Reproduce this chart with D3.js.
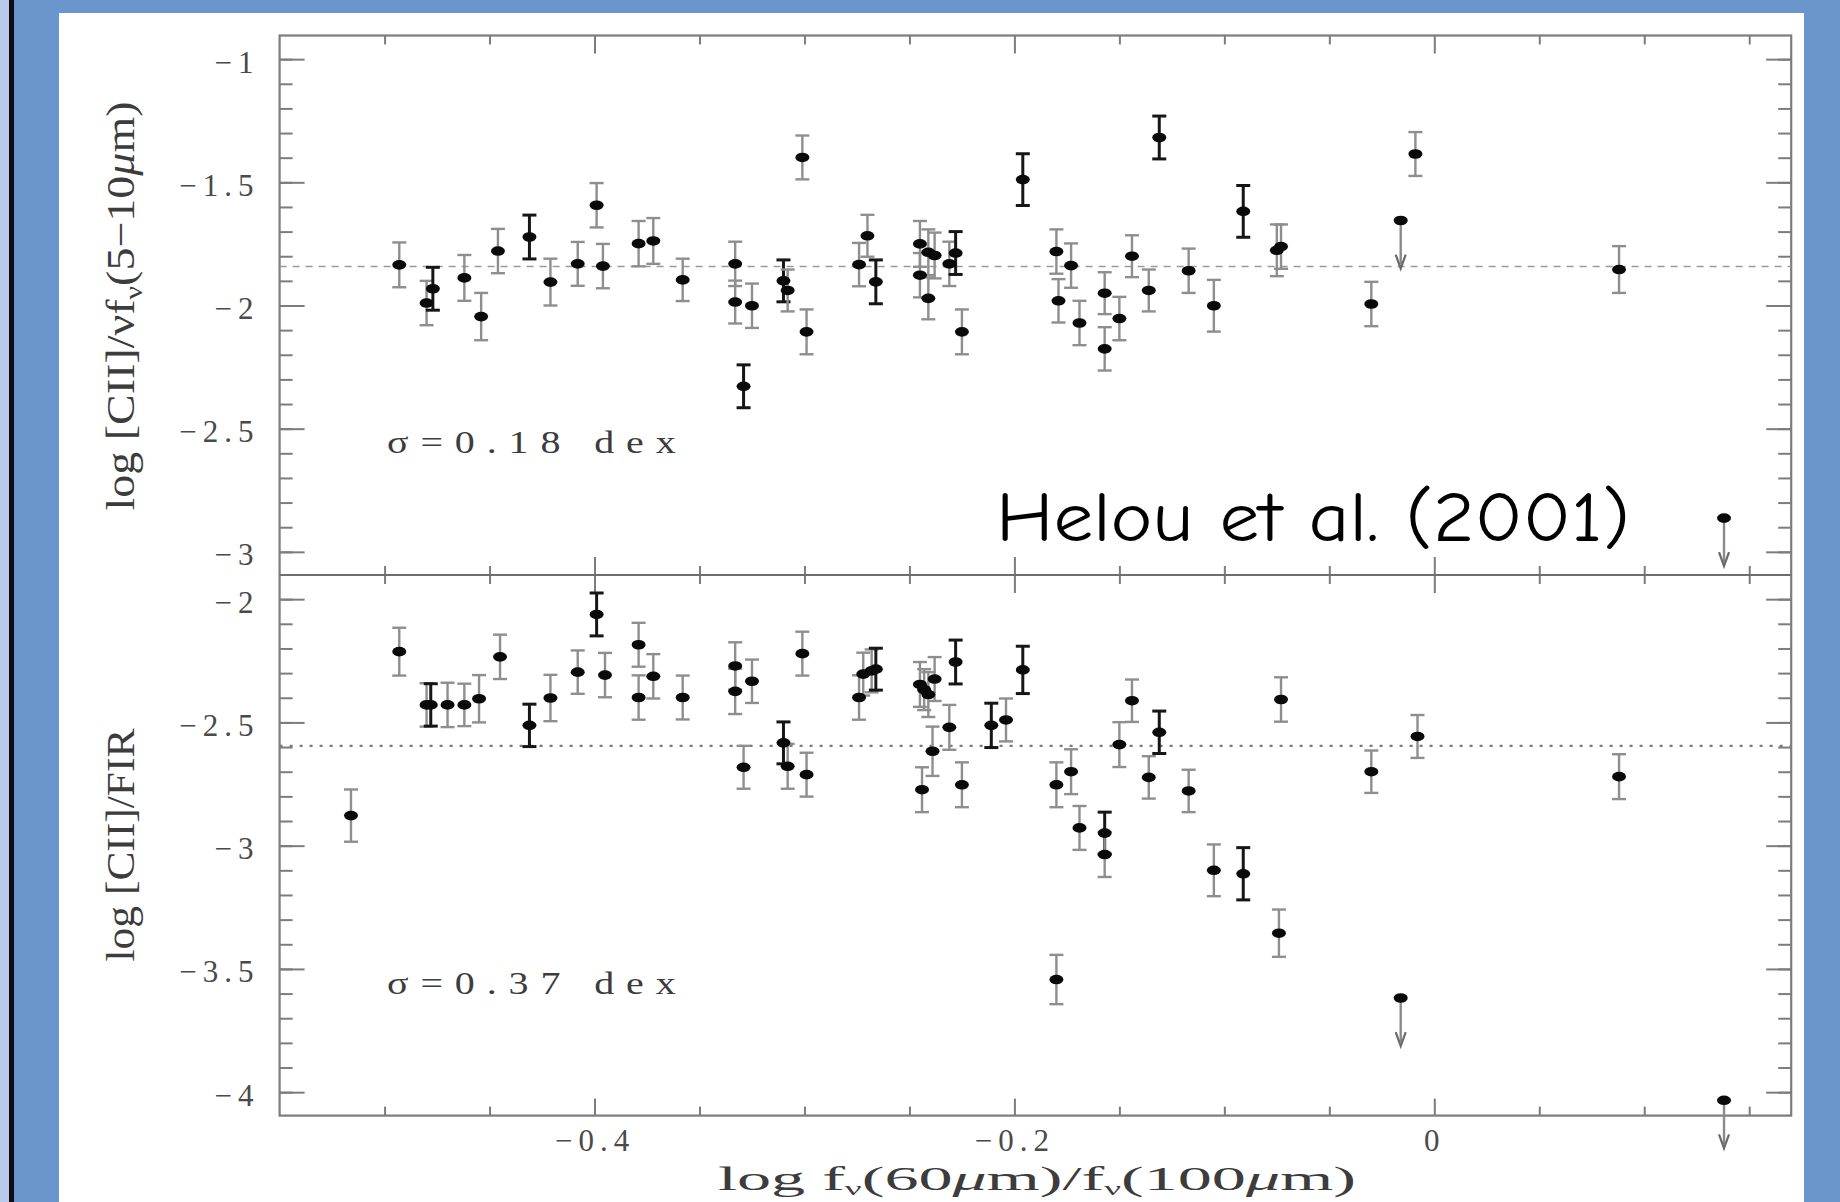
<!DOCTYPE html>
<html>
<head>
<meta charset="utf-8">
<script src="https://cdn.jsdelivr.net/npm/d3@7"></script>
<style>
  html, body { margin: 0; padding: 0; background: #6b95cd; overflow: hidden; }
  svg { display: block; }
  .tick text { font-family: "Liberation Serif", "DejaVu Serif", serif; fill: #4a4a4a; letter-spacing: 6px; }
  .serif { font-family: "Liberation Serif", "DejaVu Serif", serif; fill: #3c3c3c; }
</style>
</head>
<body>
<svg id="chart" width="1840" height="1202"></svg>
<script>
// upper panel: log [CII]/νfν(5-10μm)
const topX = [-0.493, -0.480, -0.477, -0.462, -0.454, -0.446, -0.431, -0.421, -0.408, -0.399,
  -0.396, -0.379, -0.372, -0.358, -0.333, -0.333, -0.325, -0.329, -0.310, -0.308,
  -0.301, -0.299, -0.274, -0.270, -0.266, -0.245, -0.245, -0.241, -0.238, -0.241,
  -0.231, -0.228, -0.225, -0.196, -0.180, -0.179, -0.173, -0.169, -0.157, -0.157,
  -0.150, -0.144, -0.131, -0.136, -0.117, -0.105, -0.091, -0.075, -0.073, -0.030,
  -0.009, 0.088];
const topY = [-1.835, -1.990, -1.932, -1.888, -2.045, -1.779, -1.722, -1.905, -1.831, -1.593,
  -1.840, -1.749, -1.738, -1.896, -1.831, -1.986, -2.001, -2.328, -1.900, -1.939,
  -1.399, -2.107, -1.834, -1.717, -1.904, -1.750, -1.877, -1.784, -1.797, -1.971,
  -1.831, -1.787, -2.107, -1.489, -1.781, -1.981, -1.838, -2.071, -1.950, -2.176,
  -2.053, -1.800, -1.318, -1.939, -1.859, -2.001, -1.618, -1.776, -1.761, -1.994,
  -1.385, -1.854];
const topErr = [0.091, 0.090, 0.087, 0.093, 0.096, 0.090, 0.089, 0.095, 0.089, 0.090,
  0.090, 0.092, 0.093, 0.086, 0.090, 0.087, 0.090, 0.087, 0.085, 0.085,
  0.089, 0.091, 0.088, 0.085, 0.089, 0.093, 0.090, 0.093, 0.093, 0.085,
  0.090, 0.087, 0.091, 0.105, 0.090, 0.088, 0.090, 0.090, 0.085, 0.088,
  0.088, 0.085, 0.087, 0.085, 0.090, 0.105, 0.105, 0.105, 0.090, 0.090,
  0.089, 0.095];
const topDark = [2, 6, 17, 18, 24, 31, 33, 42, 46];
const topLimX = [-0.016, 0.138];
const topLimY = [-1.655, -2.863];
const topMean = -1.842;

// lower panel: log [CII]/FIR
const botX = [-0.516, -0.493, -0.480, -0.478, -0.470, -0.462, -0.455, -0.445, -0.431, -0.421,
  -0.408, -0.399, -0.395, -0.379, -0.379, -0.372, -0.358, -0.333, -0.333, -0.325,
  -0.329, -0.310, -0.308, -0.299, -0.301, -0.274, -0.272, -0.268, -0.266, -0.245,
  -0.243, -0.241, -0.238, -0.239, -0.244, -0.231, -0.228, -0.225, -0.211, -0.204,
  -0.196, -0.180, -0.173, -0.169, -0.157, -0.157, -0.180, -0.150, -0.144, -0.131,
  -0.136, -0.117, -0.105, -0.091, -0.074, -0.073, -0.030, -0.008, 0.088];
const botY = [-2.878, -2.213, -2.429, -2.429, -2.429, -2.429, -2.404, -2.234, -2.512, -2.401,
  -2.296, -2.062, -2.308, -2.185, -2.399, -2.313, -2.399, -2.271, -2.374, -2.333,
  -2.682, -2.583, -2.678, -2.712, -2.221, -2.399, -2.304, -2.291, -2.284, -2.346,
  -2.367, -2.387, -2.324, -2.617, -2.773, -2.520, -2.255, -2.753, -2.512, -2.490,
  -2.287, -2.753, -2.700, -2.928, -2.949, -3.036, -3.543, -2.590, -2.412, -2.540,
  -2.723, -2.778, -3.100, -3.114, -3.355, -2.407, -2.700, -2.557, -2.720];
const botErr = [0.106, 0.097, 0.088, 0.086, 0.090, 0.086, 0.096, 0.090, 0.086, 0.094,
  0.088, 0.087, 0.090, 0.089, 0.090, 0.090, 0.089, 0.096, 0.092, 0.088,
  0.087, 0.085, 0.091, 0.089, 0.089, 0.090, 0.087, 0.087, 0.085, 0.091,
  0.083, 0.091, 0.089, 0.100, 0.091, 0.091, 0.089, 0.091, 0.090, 0.087,
  0.096, 0.091, 0.091, 0.089, 0.085, 0.091, 0.100, 0.091, 0.086, 0.086,
  0.086, 0.086, 0.105, 0.106, 0.096, 0.090, 0.086, 0.087, 0.091];
const botDark = [3, 8, 11, 21, 28, 36, 38, 40, 44, 49, 53];
const botLimX = [-0.016, 0.138];
const botLimY = [-3.618, -4.033];
const botMean = -2.595;

const xMajor = [-0.4, -0.2, 0];
const xMinor = d3.range(-10, 4).map(i => i * 0.05);
const topMajor = [-1, -1.5, -2, -2.5, -3];
const topMinor = d3.range(-30, -9).map(i => i / 10);
const botMajor = [-2, -2.5, -3, -3.5, -4];
const botMinor = d3.range(-40, -19).map(i => i / 10);

const svg = d3.select("#chart");

// slide frame
svg.append("rect").attr("width", 1840).attr("height", 1202).attr("fill", "#6b95cd");
svg.append("rect").attr("width", 9).attr("height", 1202).attr("fill", "#b8cae9");
svg.append("rect").attr("x", 9).attr("width", 5).attr("height", 1202).attr("fill", "#0d0d12");
svg.append("rect").attr("x", 59).attr("y", 13).attr("width", 1745).attr("height", 1189).attr("fill", "#ffffff");

const plotL = 279.6, plotR = 1791.2, plotT = 35.5, plotM = 575, plotB = 1115.6;

const x = d3.scaleLinear().domain([-0.55, 0.17]).range([plotL, plotR]);
const yTop = d3.scaleLinear().domain([-3.094, -0.904]).range([plotM, plotT]);
const yBot = d3.scaleLinear().domain([-4.095, -1.902]).range([plotB, plotM]);

const AXIS = "#7c7c7c";

function styleAxis(g) {
  g.select(".domain").remove();
  g.selectAll(".tick line").attr("stroke", AXIS).attr("stroke-width", 2);
  g.selectAll(".tick text").attr("font-size", 31);
}

function yAxes(scale, major, minor) {
  const fmt = d3.format("");
  svg.append("g").attr("transform", `translate(${plotL},0)`)
    .call(d3.axisLeft(scale).tickValues(minor).tickSize(-13).tickFormat(""))
    .call(styleAxis);
  svg.append("g").attr("transform", `translate(${plotL},0)`)
    .call(d3.axisLeft(scale).tickValues(major).tickSize(-25).tickPadding(20).tickFormat(fmt))
    .call(styleAxis)
    .call(g => g.selectAll(".tick text").attr("dy", "0.42em"));
  svg.append("g").attr("transform", `translate(${plotR},0)`)
    .call(d3.axisRight(scale).tickValues(minor).tickSize(-13).tickFormat(""))
    .call(styleAxis);
  svg.append("g").attr("transform", `translate(${plotR},0)`)
    .call(d3.axisRight(scale).tickValues(major).tickSize(-25).tickFormat(""))
    .call(styleAxis);
}

yAxes(yTop, topMajor, topMinor);
yAxes(yBot, botMajor, botMinor);

// x ticks: top edge, shared middle edge (both ways), bottom edge with labels
function xTicks(y0, maker, minorLen, majorLen, labels) {
  svg.append("g").attr("transform", `translate(0,${y0})`)
    .call(maker(x).tickValues(xMinor.filter(v => !xMajor.some(m => Math.abs(m - v) < 1e-9))).tickSize(minorLen).tickFormat(""))
    .call(styleAxis);
  svg.append("g").attr("transform", `translate(0,${y0})`)
    .call(maker(x).tickValues(xMajor).tickSize(majorLen).tickPadding(13).tickFormat(labels ? d3.format("") : ""))
    .call(styleAxis);
}
xTicks(plotT, d3.axisTop, -9, -18, false);
xTicks(plotM, d3.axisBottom, -9, -18, false);
xTicks(plotM, d3.axisTop, -9, -18, false);
xTicks(plotB, d3.axisBottom, -9, -17, true);

// frame
svg.append("rect").attr("x", plotL).attr("y", plotT).attr("width", plotR - plotL).attr("height", plotB - plotT)
  .attr("fill", "none").attr("stroke", AXIS).attr("stroke-width", 2.2);
svg.append("line").attr("x1", plotL).attr("x2", plotR).attr("y1", plotM).attr("y2", plotM)
  .attr("stroke", "#6e6e6e").attr("stroke-width", 2.2);

// mean lines
svg.append("line").attr("x1", plotL).attr("x2", plotR)
  .attr("y1", yTop(topMean)).attr("y2", yTop(topMean))
  .attr("stroke", "#9a9a9a").attr("stroke-width", 1.6).attr("stroke-dasharray", "7,6");
svg.append("line").attr("x1", plotL).attr("x2", plotR)
  .attr("y1", yBot(botMean)).attr("y2", yBot(botMean))
  .attr("stroke", "#7a7a7a").attr("stroke-width", 2.4).attr("stroke-dasharray", "3,7");

function drawPoints(y, xs, ys, errs, dark, limX, limY) {
  const pts = xs.map((v, i) => ({ x: v, y: ys[i], e: errs[i], dark: dark.includes(i) }));
  const g = svg.append("g");
  const bar = g.selectAll("g.bar").data(pts).join("g").attr("class", "bar")
    .attr("stroke", d => d.dark ? "#161616" : "#8e8e8e")
    .attr("stroke-width", d => d.dark ? 3 : 2.4);
  bar.append("line")
    .attr("x1", d => x(d.x)).attr("x2", d => x(d.x))
    .attr("y1", d => y(d.y + d.e)).attr("y2", d => y(d.y - d.e));
  bar.append("line")
    .attr("x1", d => x(d.x) - 7).attr("x2", d => x(d.x) + 7)
    .attr("y1", d => y(d.y + d.e)).attr("y2", d => y(d.y + d.e));
  bar.append("line")
    .attr("x1", d => x(d.x) - 7).attr("x2", d => x(d.x) + 7)
    .attr("y1", d => y(d.y - d.e)).attr("y2", d => y(d.y - d.e));
  g.selectAll("ellipse").data(pts).join("ellipse")
    .attr("cx", d => x(d.x)).attr("cy", d => y(d.y))
    .attr("rx", 7).attr("ry", 4.8).attr("fill", "#0a0a0a");

  const lims = limX.map((v, i) => ({ x: v, y: limY[i] }));
  const lg = g.selectAll("g.lim").data(lims).join("g").attr("class", "lim");
  lg.append("line")
    .attr("x1", d => x(d.x)).attr("x2", d => x(d.x))
    .attr("y1", d => y(d.y)).attr("y2", d => y(d.y) + 44)
    .attr("stroke", "#8a8a8a").attr("stroke-width", 2.4);
  lg.append("path")
    .attr("d", d => `M${x(d.x) - 5},${y(d.y) + 34} L${x(d.x)},${y(d.y) + 48} L${x(d.x) + 5},${y(d.y) + 34}`)
    .attr("fill", "none").attr("stroke", "#6a6a6a").attr("stroke-width", 2.2);
  lg.append("ellipse")
    .attr("cx", d => x(d.x)).attr("cy", d => y(d.y))
    .attr("rx", 7).attr("ry", 4.8).attr("fill", "#0a0a0a");
}

drawPoints(yTop, topX, topY, topErr, topDark, topLimX, topLimY);
drawPoints(yBot, botX, botY, botErr, botDark, botLimX, botLimY);

// annotations (wide, spaced lettering as in the plot)
svg.append("text").attr("class", "serif")
  .attr("transform", "translate(387,453) scale(1.25,1)")
  .attr("font-size", 32).attr("fill", "#505050").attr("letter-spacing", 9.5)
  .text("σ=0.18 dex");
svg.append("text").attr("class", "serif")
  .attr("transform", "translate(387,994) scale(1.25,1)")
  .attr("font-size", 32).attr("fill", "#505050").attr("letter-spacing", 9.5)
  .text("σ=0.37 dex");

svg.append("text").attr("x", 996).attr("y", 541)
  .attr("font-family", "'Comic Sans MS', 'Comic Neue', 'DejaVu Sans', sans-serif")
  .attr("font-size", 70).attr("fill", "#000")
  .attr("textLength", 634).attr("lengthAdjust", "spacingAndGlyphs")
  .text("Helou et al. (2001)");

// axis titles
const yl1 = svg.append("text").attr("class", "serif")
  .attr("transform", "translate(134,306) rotate(-90)")
  .attr("text-anchor", "middle").attr("font-size", 40)
  .attr("textLength", 409).attr("lengthAdjust", "spacingAndGlyphs");
yl1.append("tspan").text("log [CII]/νf");
yl1.append("tspan").attr("font-size", 26).attr("dy", 8).text("ν");
yl1.append("tspan").attr("dy", -8).text("(5−10");
yl1.append("tspan").attr("font-style", "italic").text("μ");
yl1.append("tspan").text("m)");

svg.append("text").attr("class", "serif")
  .attr("transform", "translate(134,845) rotate(-90)")
  .attr("text-anchor", "middle").attr("font-size", 40)
  .attr("textLength", 233).attr("lengthAdjust", "spacingAndGlyphs")
  .text("log [CII]/FIR");

const xl = svg.append("text").attr("class", "serif")
  .attr("x", 1037).attr("y", 1190).attr("text-anchor", "middle").attr("font-size", 33)
  .attr("textLength", 638).attr("lengthAdjust", "spacingAndGlyphs");
xl.append("tspan").text("log  f");
xl.append("tspan").attr("font-size", 18).attr("dy", 5).text("ν");
xl.append("tspan").attr("dy", -5).text("(60");
xl.append("tspan").attr("font-style", "italic").text("μ");
xl.append("tspan").text("m)/f");
xl.append("tspan").attr("font-size", 18).attr("dy", 5).text("ν");
xl.append("tspan").attr("dy", -5).text("(100");
xl.append("tspan").attr("font-style", "italic").text("μ");
xl.append("tspan").text("m)");
</script>
</body>
</html>
